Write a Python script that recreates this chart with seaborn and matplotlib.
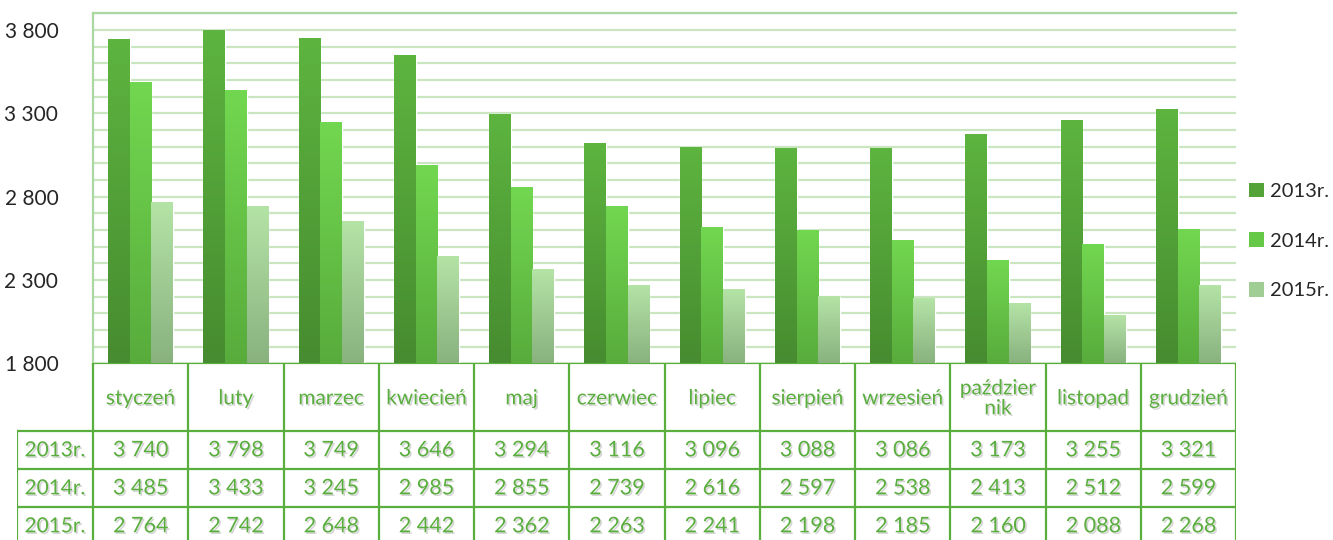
import matplotlib
matplotlib.use('Agg')
import matplotlib.pyplot as plt
import matplotlib.patheffects as pe
import numpy as np
import pandas as pd
import seaborn as sns

months = ['styczeń', 'luty', 'marzec', 'kwiecień', 'maj', 'czerwiec',
          'lipiec', 'sierpień', 'wrzesień', 'październik', 'listopad', 'grudzień']
month_labels = ['styczeń', 'luty', 'marzec', 'kwiecień', 'maj', 'czerwiec',
                'lipiec', 'sierpień', 'wrzesień', 'paździer\nnik', 'listopad', 'grudzień']
years = ['2013r.', '2014r.', '2015r.']
v2013 = [3740, 3798, 3749, 3646, 3294, 3116, 3096, 3088, 3086, 3173, 3255, 3321]
v2014 = [3485, 3433, 3245, 2985, 2855, 2739, 2616, 2597, 2538, 2413, 2512, 2599]
v2015 = [2764, 2742, 2648, 2442, 2362, 2263, 2241, 2198, 2185, 2160, 2088, 2268]
yticks = [1800, 2300, 2800, 3300, 3800]

df = pd.DataFrame({
    'miesiac': months * 3,
    'rok': [y for y in years for _ in months],
    'wartosc': v2013 + v2014 + v2015,
})

sns.set_style('white')
plt.rcParams['font.family'] = ['Lato', 'DejaVu Sans']

mid_cols = ['#54a338', '#66c847', '#9fcd93']
top_cols = ['#5db43f', '#72d750', '#b4e3a6']
bot_cols = ['#478c30', '#58ac3c', '#89b27f']
table_green = '#5aae3e'

W, H = 1333, 540
fig = plt.figure(figsize=(W / 100, H / 100), dpi=100)
ax = fig.add_axes([93 / W, (540 - 363.3) / H, (1236 - 93) / W, (363.3 - 13.3) / H])

sns.barplot(data=df, x='miesiac', y='wartosc', hue='rok', order=months,
            hue_order=years, palette=mid_cols, width=0.68, ax=ax,
            saturation=1, legend=False, zorder=3)

ax.set_xlim(-0.5, 11.5)
ax.set_ylim(1800, 3900)

# gradient fill on each bar
def grad(c_top, c_bot):
    t = np.array(matplotlib.colors.to_rgb(c_top))
    b = np.array(matplotlib.colors.to_rgb(c_bot))
    f = np.linspace(0, 1, 64)[:, None]
    return (t * (1 - f) + b * f)[:, None, :]

bars = ax.patches
for i, p in enumerate(bars):
    k = i // len(months)
    x0, y0 = p.get_x(), 1800
    x1, y1 = p.get_x() + p.get_width(), p.get_y() + p.get_height()
    ax.imshow(grad(top_cols[k], bot_cols[k]), extent=(x0, x1, y0, y1),
              aspect='auto', zorder=4, interpolation='bilinear')
ax.set_xlim(-0.5, 11.5)
ax.set_ylim(1800, 3900)

ax.set_yticks(np.arange(1800, 3901, 100), minor=True)
ax.set_yticks(yticks)
ax.set_yticklabels([f'{v:,}'.replace(',', ' ') for v in yticks], fontsize=15)
ax.tick_params(axis='y', which='both', length=0, pad=25)
ax.grid(axis='y', which='both', color='#c9e6c1', lw=1.6, zorder=0)
ax.set_xticks([])
ax.set_xlabel('')
ax.set_ylabel('')
for s in ['right', 'bottom']:
    ax.spines[s].set_visible(False)
for s in ['top', 'left']:
    ax.spines[s].set_color('#abd7a1')
    ax.spines[s].set_linewidth(1.6)

# legend
handles = [matplotlib.patches.Patch(facecolor=c, edgecolor='none') for c in mid_cols]
fig.legend(handles, years, loc='center left', bbox_to_anchor=(1239 / W, 1 - 241 / H),
           frameon=False, fontsize=14.5, handlelength=0.75, handleheight=0.75,
           handletextpad=0.3, labelspacing=1.6, borderpad=0)

# data table under the plot
tab = fig.add_axes([17 / W, 0, (1236 - 17) / W, (540 - 363.3) / H])
xl = -0.5 - 76 / 95.25
tab.set_xlim(xl, 11.5)
tab.set_ylim(176.7, 0)
tab.axis('off')
lk = dict(color=table_green, lw=1.6, solid_capstyle='projecting')
tab.plot([-0.5, 11.5], [0, 0], **lk)
for k in range(13):
    tab.plot([k - 0.5, k - 0.5], [0, 177], **lk)
tab.plot([xl, xl], [68, 177], **lk)
for yy in [68, 106, 144]:
    tab.plot([xl, 11.5], [yy, yy], **lk)

shadow = [pe.SimplePatchShadow(offset=(1.2, -1.2), shadow_rgbFace='#999999', alpha=0.4),
          pe.Normal()]
for k, lab in enumerate(month_labels):
    tab.text(k, 35, lab, ha='center', va='center', fontsize=15, color=table_green,
             linespacing=1.0, path_effects=shadow)
rows = [v2013, v2014, v2015]
for r, (yr, vals) in enumerate(zip(years, rows)):
    yc = 87 + 38 * r
    tab.text((xl - 0.5) / 2, yc, yr, ha='center', va='center', fontsize=15,
             color=table_green, path_effects=shadow)
    for k, v in enumerate(vals):
        tab.text(k, yc, f'{v:,}'.replace(',', ' '), ha='center', va='center',
                 fontsize=15.5, color=table_green, path_effects=shadow)

fig.savefig('out.png', dpi=100)
